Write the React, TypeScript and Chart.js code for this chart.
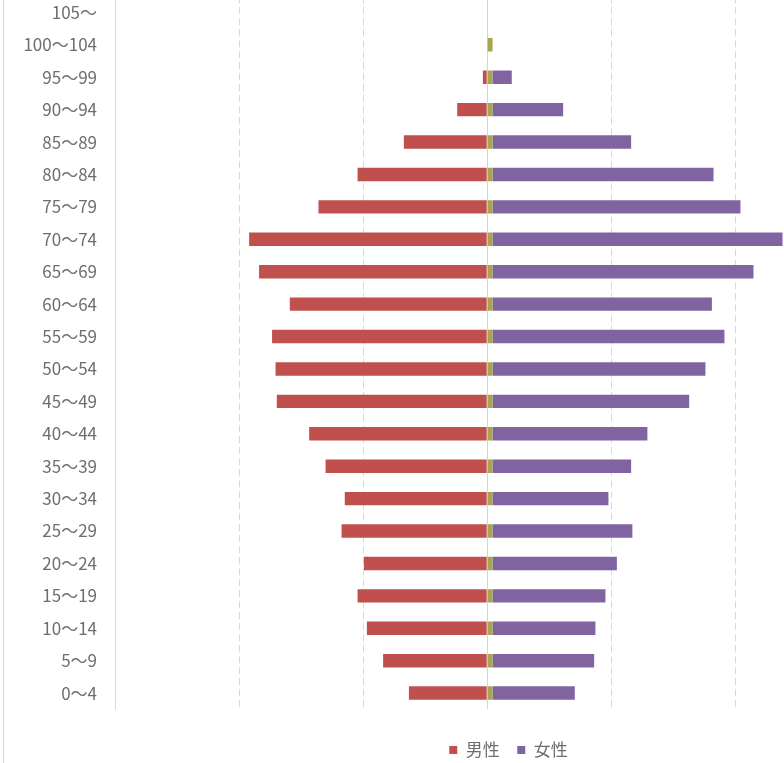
import React, { useEffect, useRef } from "react";
import { Chart, registerables } from "chart.js";

Chart.register(...registerables);

const ageGroups = [
  "0～4", "5～9", "10～14", "15～19", "20～24", "25～29", "30～34", "35～39",
  "40～44", "45～49", "50～54", "55～59", "60～64", "65～69", "70～74", "75～79",
  "80～84", "85～89", "90～94", "95～99", "100～104", "105～",
];

const maleValues = [
  631, 839, 970, 1045, 994, 1174, 1148, 1303, 1435, 1696, 1706, 1734, 1591,
  1839, 1919, 1360, 1045, 672, 242, 35, 0, 0,
];

const femaleValues = [
  663, 819, 829, 910, 1002, 1127, 934, 1117, 1248, 1585, 1716, 1869, 1768,
  2103, 2337, 1998, 1781, 1117, 569, 155, 0, 0,
];

const spacerValues = [
  43, 43, 43, 43, 43, 43, 43, 43, 43, 43, 43, 43, 43, 43, 43, 43, 43, 43, 43,
  43, 43, 0,
];

const gridValues = [-3000, -2000, -1000, 0, 1000, 2000, 3000, 4000];

const seriesNames = ["男性", "", "女性"];

const FONT = "'Noto Sans CJK JP', 'Noto Sans', sans-serif";

const centerLine = {
  id: "centerLine",
  beforeDatasetsDraw(chart: any) {
    const { ctx, chartArea, scales } = chart;
    const x = Math.round(scales.x.getPixelForValue(0)) + 0.5;
    ctx.save();
    ctx.strokeStyle = "#d4d4d4";
    ctx.lineWidth = 1;
    ctx.beginPath();
    ctx.moveTo(x, chartArea.top);
    ctx.lineTo(x, chartArea.bottom);
    ctx.stroke();
    ctx.restore();
  },
};

export default function App() {
  const ref = useRef<HTMLCanvasElement>(null);

  useEffect(() => {
    if (!ref.current) return;
    const chart = new Chart(ref.current, {
      type: "bar",
      data: {
        labels: ageGroups,
        datasets: [
          {
            label: seriesNames[0],
            data: maleValues.map((v) => -v),
            backgroundColor: "#C0504D",
            borderWidth: 0,
          },
          {
            label: seriesNames[1],
            data: spacerValues,
            backgroundColor: "#A6A650",
            borderWidth: 0,
          },
          {
            label: seriesNames[2],
            data: femaleValues,
            backgroundColor: "#8064A2",
            borderWidth: 0,
          },
        ],
      },
      plugins: [centerLine],
      options: {
        indexAxis: "y",
        responsive: false,
        animation: false,
        layout: { padding: { left: 0, right: 0, top: 0, bottom: 1.5 } },
        datasets: {
          bar: { categoryPercentage: 0.5, barPercentage: 0.83 },
        },
        scales: {
          x: {
            stacked: true,
            min: -3000,
            max: 4270,
            ticks: { display: false, stepSize: 1000 },
            afterBuildTicks: (s: any) => {
              s.ticks = gridValues.map((v) => ({ value: v }));
            },
            grid: { color: "#d9d9d9", lineWidth: 1, drawTicks: false },
            border: { display: false, dash: [7, 4] },
            afterFit: (s: any) => {
              s.height = 14.7;
            },
          },
          y: {
            stacked: true,
            reverse: true,
            grid: { display: false, drawTicks: false },
            border: { display: true, color: "#d9d9d9", width: 1 },
            ticks: {
              color: "#6e6e6e",
              font: { family: FONT, size: 17 },
              padding: 18,
              autoSkip: false,
            },
            afterFit: (s: any) => {
              s.width = 115;
            },
          },
        },
        plugins: {
          legend: {
            position: "bottom",
            labels: {
              color: "#6e6e6e",
              font: { family: FONT, size: 17 },
              boxWidth: 8,
              boxHeight: 8,
              padding: 17.5,
              filter: (item: any) => item.text !== "",
            },
          },
          tooltip: { enabled: false },
        },
      },
    });
    return () => chart.destroy();
  }, []);

  return (
    <div
      style={{
        position: "fixed",
        left: 0,
        top: 0,
        width: 784,
        height: 763,
        overflow: "hidden",
        background: "#ffffff",
      }}
    >
      <div
        style={{
          position: "absolute",
          left: 3,
          top: 0,
          width: 1,
          height: 763,
          background: "#d6d6d6",
        }}
      />
      <canvas
        ref={ref}
        width={1017}
        height={802}
        style={{ position: "absolute", left: 0, top: -32, width: 1017, height: 802 }}
      />
    </div>
  );
}
